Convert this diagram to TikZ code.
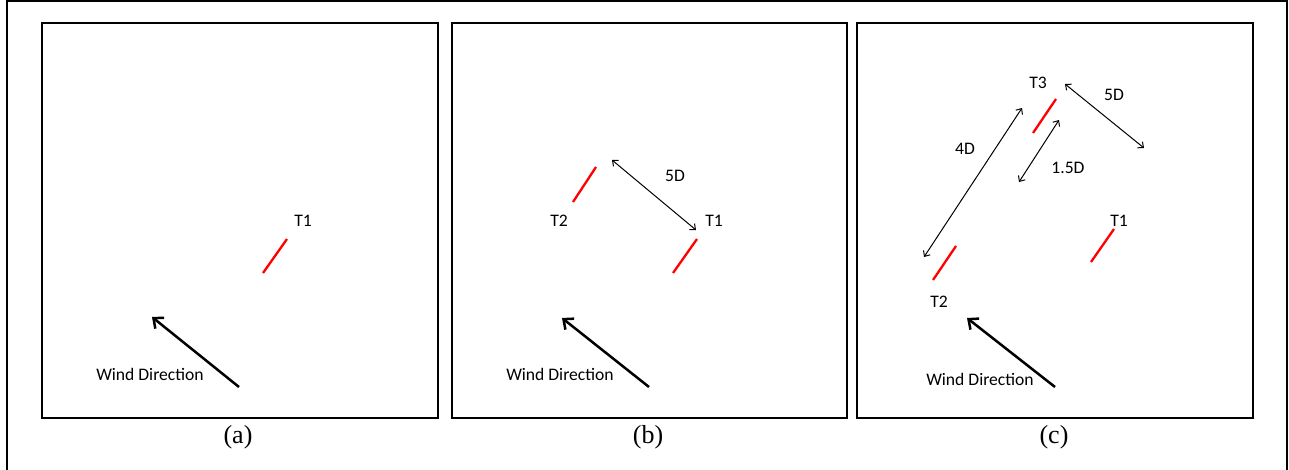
\documentclass[tikz,border=0pt]{standalone}
\usepackage{fontspec}
\setmainfont{Carlito}
\newfontfamily\capfont{Liberation Serif}
\usetikzlibrary{arrows.meta}

\begin{document}
\begin{tikzpicture}[
  x=1pt,
  y=-1pt,
  font=\fontsize{17.6}{20}\selectfont,
  panel/.style={draw, line width=2.8pt},
  frame/.style={draw, line width=1.1pt},
  turbine/.style={draw=red, line width=2.3pt},
  wind/.style={-{Straight Barb[length=8pt,width=14pt]}, line width=2.5pt},
  dist/.style={{Straight Barb[length=4.5pt,width=8pt]}-{Straight Barb[length=4.5pt,width=8pt]}, line width=1pt},
  lbl/.style={inner sep=0pt},
  captext/.style={font=\capfont\fontsize{26}{28}\selectfont, inner sep=0pt}
]
\useasboundingbox (0,0) rectangle (1289,470);
\draw[frame] (7,472) -- (7,1) -- (1287,1) -- (1287,472);

% panel (a)
\draw[panel] (42,23) rectangle (438,418);
\draw[turbine] (263,273) -- (287,239);
\node[lbl] (a-t1) at (303,221) {T1};
\coordinate (a-wtail) at (239,387);
\coordinate (a-whead) at (152,317);
\draw[wind] (a-wtail) -- (a-whead);
\node[lbl] (a-wind) at (150,374) {Wind Direction};
\node[captext] (a-cap) at (238,437) {(a)};

% panel (b)
\draw[panel] (452,23) rectangle (847,418);
\draw[turbine] (673,273) -- (697,239);
\node[lbl] (b-t1) at (714,221) {T1};
\draw[turbine] (573,202) -- (596,167);
\node[lbl] (b-t2) at (559,221) {T2};
\coordinate (b-d1) at (612,160);
\coordinate (b-d2) at (696,230);
\draw[dist] (b-d1) -- (b-d2);
\node[lbl] (b-5d) at (675,176) {5D};
\coordinate (b-wtail) at (649,387);
\coordinate (b-whead) at (562,318);
\draw[wind] (b-wtail) -- (b-whead);
\node[lbl] (b-wind) at (560,374) {Wind Direction};
\node[captext] (b-cap) at (648,437) {(b)};

% panel (c)
\draw[panel] (857,23) rectangle (1253,418);
\draw[turbine] (1091,262) -- (1114,229);
\node[lbl] (c-t1) at (1119,221) {T1};
\draw[turbine] (933,280) -- (956,246);
\node[lbl] (c-t2) at (939,302) {T2};
\draw[turbine] (1033,133) -- (1056,99);
\node[lbl] (c-t3) at (1038,83) {T3};
\coordinate (c-a1) at (924,257);
\coordinate (c-a2) at (1022,108);
\draw[dist] (c-a1) -- (c-a2);
\node[lbl] (c-4d) at (965,149) {4D};
\coordinate (c-b1) at (1019,182);
\coordinate (c-b2) at (1059,120);
\draw[dist] (c-b1) -- (c-b2);
\node[lbl] (c-15d) at (1068,168) {1.5D};
\coordinate (c-c1) at (1065,84);
\coordinate (c-c2) at (1144,148);
\draw[dist] (c-c1) -- (c-c2);
\node[lbl] (c-5d) at (1114,95) {5D};
\coordinate (c-wtail) at (1055,387);
\coordinate (c-whead) at (967,318);
\draw[wind] (c-wtail) -- (c-whead);
\node[lbl] (c-wind) at (980,379) {Wind Direction};
\node[captext] (c-cap) at (1054,437) {(c)};
\end{tikzpicture}
\end{document}
